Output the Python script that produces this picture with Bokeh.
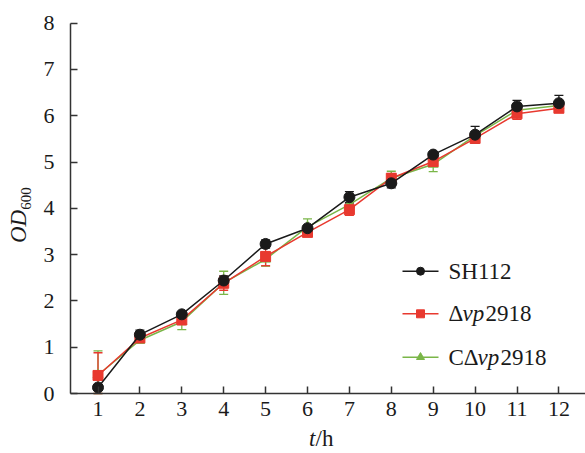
import math
from bokeh.plotting import figure
from bokeh.models import ColumnDataSource, Whisker, TeeHead, Label, Range1d, FixedTicker
from bokeh.embed import file_html
from bokeh.resources import INLINE

# ---------------- data ----------------
hours = [1, 2, 3, 4, 5, 6, 7, 8, 9, 10, 11, 12]
sh112 = [0.13, 1.27, 1.71, 2.44, 3.23, 3.57, 4.24, 4.54, 5.16, 5.59, 6.20, 6.27]
sh112_err = [0.05, 0.10, 0.05, 0.10, 0.09, 0.06, 0.12, 0.10, 0.05, 0.18, 0.13, 0.17]
dvp = [0.39, 1.20, 1.59, 2.38, 2.96, 3.48, 3.97, 4.65, 5.01, 5.51, 6.04, 6.16]
dvp_err = [0.49, 0.08, 0.10, 0.15, 0.20, 0.06, 0.12, 0.10, 0.08, 0.07, 0.12, 0.08]
cdvp = [0.40, 1.15, 1.55, 2.39, 2.90, 3.60, 4.08, 4.65, 4.95, 5.57, 6.12, 6.22]
cdvp_err = [0.52, 0.06, 0.17, 0.25, 0.15, 0.17, 0.10, 0.15, 0.16, 0.08, 0.10, 0.08]
y_ticks = [0, 1, 2, 3, 4, 5, 6, 7, 8]

BLACK = "#1a1a1a"
RED = "#e8392f"
GREEN = "#7ab648"
FONT = "'Liberation Serif', 'Times New Roman', Times, serif"

W, H = 585, 453
# page-pixel geometry of the reference: x=1 at 97.5px, 41.9 px/unit; y=0 at 393px, 46.3 px/unit
X0PX, XS, Y0PX, YS = 97.5, 41.9, 393.0, 46.3

def px2x(px):
    return 1 + (px - X0PX) / XS

def py2y(py):
    return (Y0PX - py) / YS

X_AXIS_START = px2x(70)
p = figure(width=W, height=H, output_backend="svg", toolbar_location=None,
           x_range=Range1d(px2x(0), px2x(W)), y_range=Range1d(py2y(H), py2y(0)),
           min_border=0)
p.outline_line_color = None
p.grid.visible = False
p.background_fill_color = "white"
p.border_fill_color = "white"

for ax in (p.xaxis[0], p.yaxis[0]):
    ax.axis_line_color = "#333333"
    ax.axis_line_width = 1.5
    ax.major_tick_line_color = "#333333"
    ax.major_tick_line_width = 1.5
    ax.major_tick_in = 7
    ax.major_tick_out = 0
    ax.minor_tick_line_color = None
    ax.major_label_text_font = FONT
    ax.major_label_text_font_size = "22px"
    ax.major_label_text_color = "#1a1a1a"
p.xaxis.ticker = FixedTicker(ticks=hours)
p.yaxis.ticker = FixedTicker(ticks=y_ticks)
p.xaxis.fixed_location = 0
p.yaxis.fixed_location = X_AXIS_START
p.xaxis.bounds = (X_AXIS_START, px2x(W))
p.yaxis.bounds = (0, 8)
p.xaxis.major_label_standoff = 8
p.yaxis.major_label_standoff = 16

series = [
    (cdvp, cdvp_err, GREEN, "triangle", 10),
    (dvp, dvp_err, RED, "square", 10),
    (sh112, sh112_err, BLACK, "circle", 11),
]
for vals, errs, col, mk, sz in series:
    src = ColumnDataSource(dict(x=hours, y=vals,
                                lo=[max(v - e, 0) for v, e in zip(vals, errs)],
                                hi=[v + e for v, e in zip(vals, errs)]))
    w = Whisker(base="x", upper="hi", lower="lo", source=src, line_color=col, line_width=1.3,
                upper_head=TeeHead(size=9, line_color=col, line_width=1.3),
                lower_head=TeeHead(size=9, line_color=col, line_width=1.3))
    p.add_layout(w)
    p.line("x", "y", source=src, line_color=col, line_width=1.5)
    p.scatter("x", "y", source=src, marker=mk, size=sz, fill_color=col, line_color=col)


def lab(text, px, py, size, italic=False, align="left", angle=0.0):
    p.add_layout(Label(x=px2x(px), y=py2y(py), text=text, text_font=FONT,
                       text_font_size=size, text_font_style="italic" if italic else "normal",
                       text_align=align, text_baseline="middle", angle=angle,
                       text_color="#1a1a1a"))

# axis titles
lab("t", 315, 438, "23px", italic=True, align="right")
lab("/h", 315, 438, "23px")
lab("OD", 18, 226, "23px", italic=True, align="center", angle=math.pi / 2)
lab("600", 25, 198, "15px", align="center", angle=math.pi / 2)

# legend
leg_names = [["SH112"], ["\u0394", "vp", "2918"], ["C\u0394", "vp", "2918"]]
leg_cols = [BLACK, RED, GREEN]
leg_mk = ["circle", "square", "triangle"]
leg_py = [270.7, 313.3, 356.7]
for names, col, mk, py in zip(leg_names, leg_cols, leg_mk, leg_py):
    yy = py2y(py)
    p.line([px2x(402), px2x(438)], [yy, yy], line_color=col, line_width=1.5)
    p.scatter([px2x(420)], [yy], marker=mk, size=8, fill_color=col, line_color=col)
    x0 = 448
    widths = {"SH112": 0, "\u0394": 14, "C\u0394": 29, "vp": 23}
    for part in names:
        lab(part, x0, py, "23px", italic=(part == "vp"))
        x0 += widths.get(part, 0)

open("out.html", "w").write(file_html(p, INLINE))
